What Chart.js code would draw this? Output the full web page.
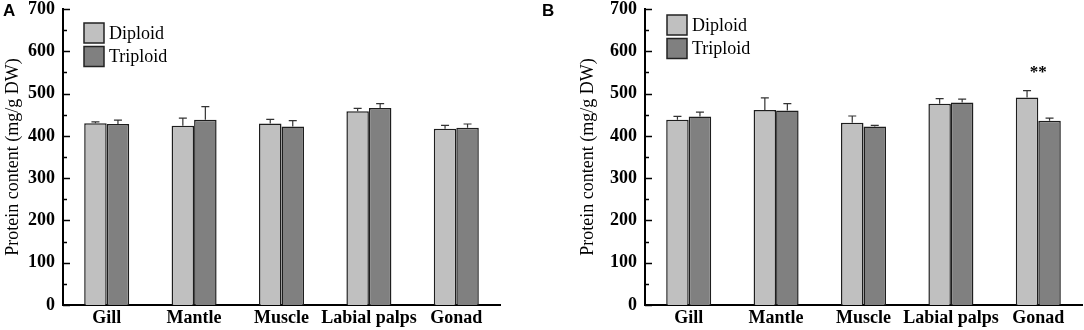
<!DOCTYPE html>
<html>
<head>
<meta charset="utf-8">
<script src="https://cdn.jsdelivr.net/npm/chart.js@4/dist/chart.umd.min.js"></script>
<style>
  html, body { margin: 0; padding: 0; background: #fff; }
  #wrap { position: relative; width: 1084px; height: 330px; }
  canvas { position: absolute; top: 0; }
</style>
</head>
<body>
<div id="wrap">
  <canvas id="chartA" width="540" height="330" style="left:0"></canvas>
  <canvas id="chartB" width="544" height="330" style="left:540px"></canvas>
</div>
<script>
var categories = ['Gill', 'Mantle', 'Muscle', 'Labial palps', 'Gonad'];
var yTicks = [0, 100, 200, 300, 400, 500, 600, 700];

// panel A
var diploidA = [430, 424, 429, 458, 417];
var diploidErrA = [3, 18, 10, 7, 8];
var triploidA = [428, 438, 422, 466, 419];
var triploidErrA = [9, 31, 14, 10, 9];

// panel B
var diploidB = [438, 461, 431, 476, 491];
var diploidErrB = [8, 29, 16, 12, 16];
var triploidB = [446, 460, 422, 479, 436];
var triploidErrB = [10, 16, 3, 8, 6];
var signifB = ['', '', '', '', '**'];

var SERIF = '"Liberation Serif", "Times New Roman", serif';

// inward major/minor ticks on y axis, error bars, legend, panel letter
var extras = {
  id: 'extras',
  afterDatasetsDraw: function(chart) {
    var ctx = chart.ctx;
    var y = chart.scales.y;
    var o = chart.options.plugins.extras;
    ctx.save();
    ctx.strokeStyle = '#000';
    ctx.lineWidth = 1.5;
    for (var v = 0; v <= 700; v += 50) {
      var py = Math.round(y.getPixelForValue(v)) + 0.5;
      var len = (v % 100 === 0) ? 7 : 4;
      ctx.beginPath();
      ctx.moveTo(y.right, py);
      ctx.lineTo(y.right + len, py);
      ctx.stroke();
    }

    // error bars (upper only)
    ctx.strokeStyle = '#333';
    ctx.lineWidth = 1.2;
    chart.data.datasets.forEach(function(ds, di) {
      var meta = chart.getDatasetMeta(di);
      meta.data.forEach(function(bar, i) {
        var top = y.getPixelForValue(ds.data[i]);
        var end = y.getPixelForValue(ds.data[i] + ds.err[i]);
        ctx.beginPath();
        ctx.moveTo(bar.x, top);
        ctx.lineTo(bar.x, end);
        ctx.moveTo(bar.x - 4, end);
        ctx.lineTo(bar.x + 4, end);
        ctx.stroke();
      });
    });

    // significance stars
    if (o.signif) {
      var meta0 = chart.getDatasetMeta(0);
      ctx.fillStyle = '#000';
      ctx.font = 'bold 17px ' + SERIF;
      ctx.textAlign = 'center';
      ctx.textBaseline = 'middle';
      o.signif.forEach(function(s, i) {
        if (!s) return;
        var b = meta0.data[i];
        var top = chart.data.datasets[0].data[i] + chart.data.datasets[0].err[i];
        ctx.fillText(s, b.x + b.width / 2, y.getPixelForValue(top) - 18);
      });
    }

    // legend
    var lx = o.legendX, ly = o.legendY;
    ctx.font = '18px ' + SERIF;
    ctx.textAlign = 'left';
    ctx.textBaseline = 'middle';
    chart.data.datasets.forEach(function(ds, di) {
      var by = ly + di * 23.5;
      ctx.fillStyle = ds.backgroundColor;
      ctx.fillRect(lx, by, 20, 20);
      ctx.strokeStyle = '#222';
      ctx.lineWidth = 1.5;
      ctx.strokeRect(lx, by, 20, 20);
      ctx.fillStyle = '#000';
      ctx.fillText(ds.label, lx + 25, by + 11);
    });

    // panel letter
    ctx.font = 'bold 17px "Liberation Sans", Arial, sans-serif';
    ctx.textBaseline = 'alphabetic';
    ctx.fillText(o.letter, o.letterX, 16);
    ctx.restore();
  }
};

function makeChart(id, dip, dipErr, trip, tripErr, cfg) {
  var ctx = document.getElementById(id).getContext('2d');
  return new Chart(ctx, {
    type: 'bar',
    data: {
      labels: categories,
      datasets: [{
        label: 'Diploid',
        data: dip,
        err: dipErr,
        backgroundColor: '#c0c0c0',
        borderColor: '#1e1e1e',
        borderWidth: 1.5,
        categoryPercentage: 0.515,
        barPercentage: 1.0
      }, {
        label: 'Triploid',
        data: trip,
        err: tripErr,
        backgroundColor: '#808080',
        borderColor: '#1e1e1e',
        borderWidth: 1.5,
        categoryPercentage: 0.515,
        barPercentage: 1.0
      }]
    },
    options: {
      responsive: false,
      animation: false,
      layout: { padding: { left: 0, right: cfg.padRight, top: 9, bottom: 0 } },
      plugins: {
        legend: { display: false },
        tooltip: { enabled: false },
        extras: cfg
      },
      scales: {
        x: {
          grid: { display: false, drawTicks: false },
          border: { display: true, color: '#000', width: 2 },
          ticks: {
            color: '#000',
            padding: 3,
            maxRotation: 0,
            minRotation: 0,
            autoSkip: false,
            font: { family: SERIF, size: 18, weight: 'bold' }
          },
          afterFit: function(s) { s.height = 25; }
        },
        y: {
          min: 0,
          max: 700,
          afterBuildTicks: function(s) { s.ticks = yTicks.map(function(v) { return { value: v }; }); },
          grid: { display: false, drawTicks: false },
          border: { display: true, color: '#000', width: 2 },
          ticks: {
            color: '#000',
            padding: 8,
            font: { family: SERIF, size: 18, weight: 'bold' }
          },
          title: {
            display: true,
            text: 'Protein content (mg/g DW)',
            color: '#000',
            padding: { top: cfg.titlePad, bottom: 0 },
            font: { family: SERIF, size: 18 }
          },
          afterFit: function(s) {
            s.width = cfg.axisLeft;
            s.paddingTop = 0;
            s.paddingBottom = 0;
          }
        }
      }
    },
    plugins: [extras]
  });
}

makeChart('chartA', diploidA, diploidErrA, triploidA, triploidErrA, {
  axisLeft: 63, padRight: 40, titlePad: 2,
  legendX: 84, legendY: 23, letter: 'A', letterX: 3
});
makeChart('chartB', diploidB, diploidErrB, triploidB, triploidErrB, {
  axisLeft: 105, padRight: 2, titlePad: 37,
  legendX: 127, legendY: 15, letter: 'B', letterX: 2, signif: signifB
});
</script>
</body>
</html>
